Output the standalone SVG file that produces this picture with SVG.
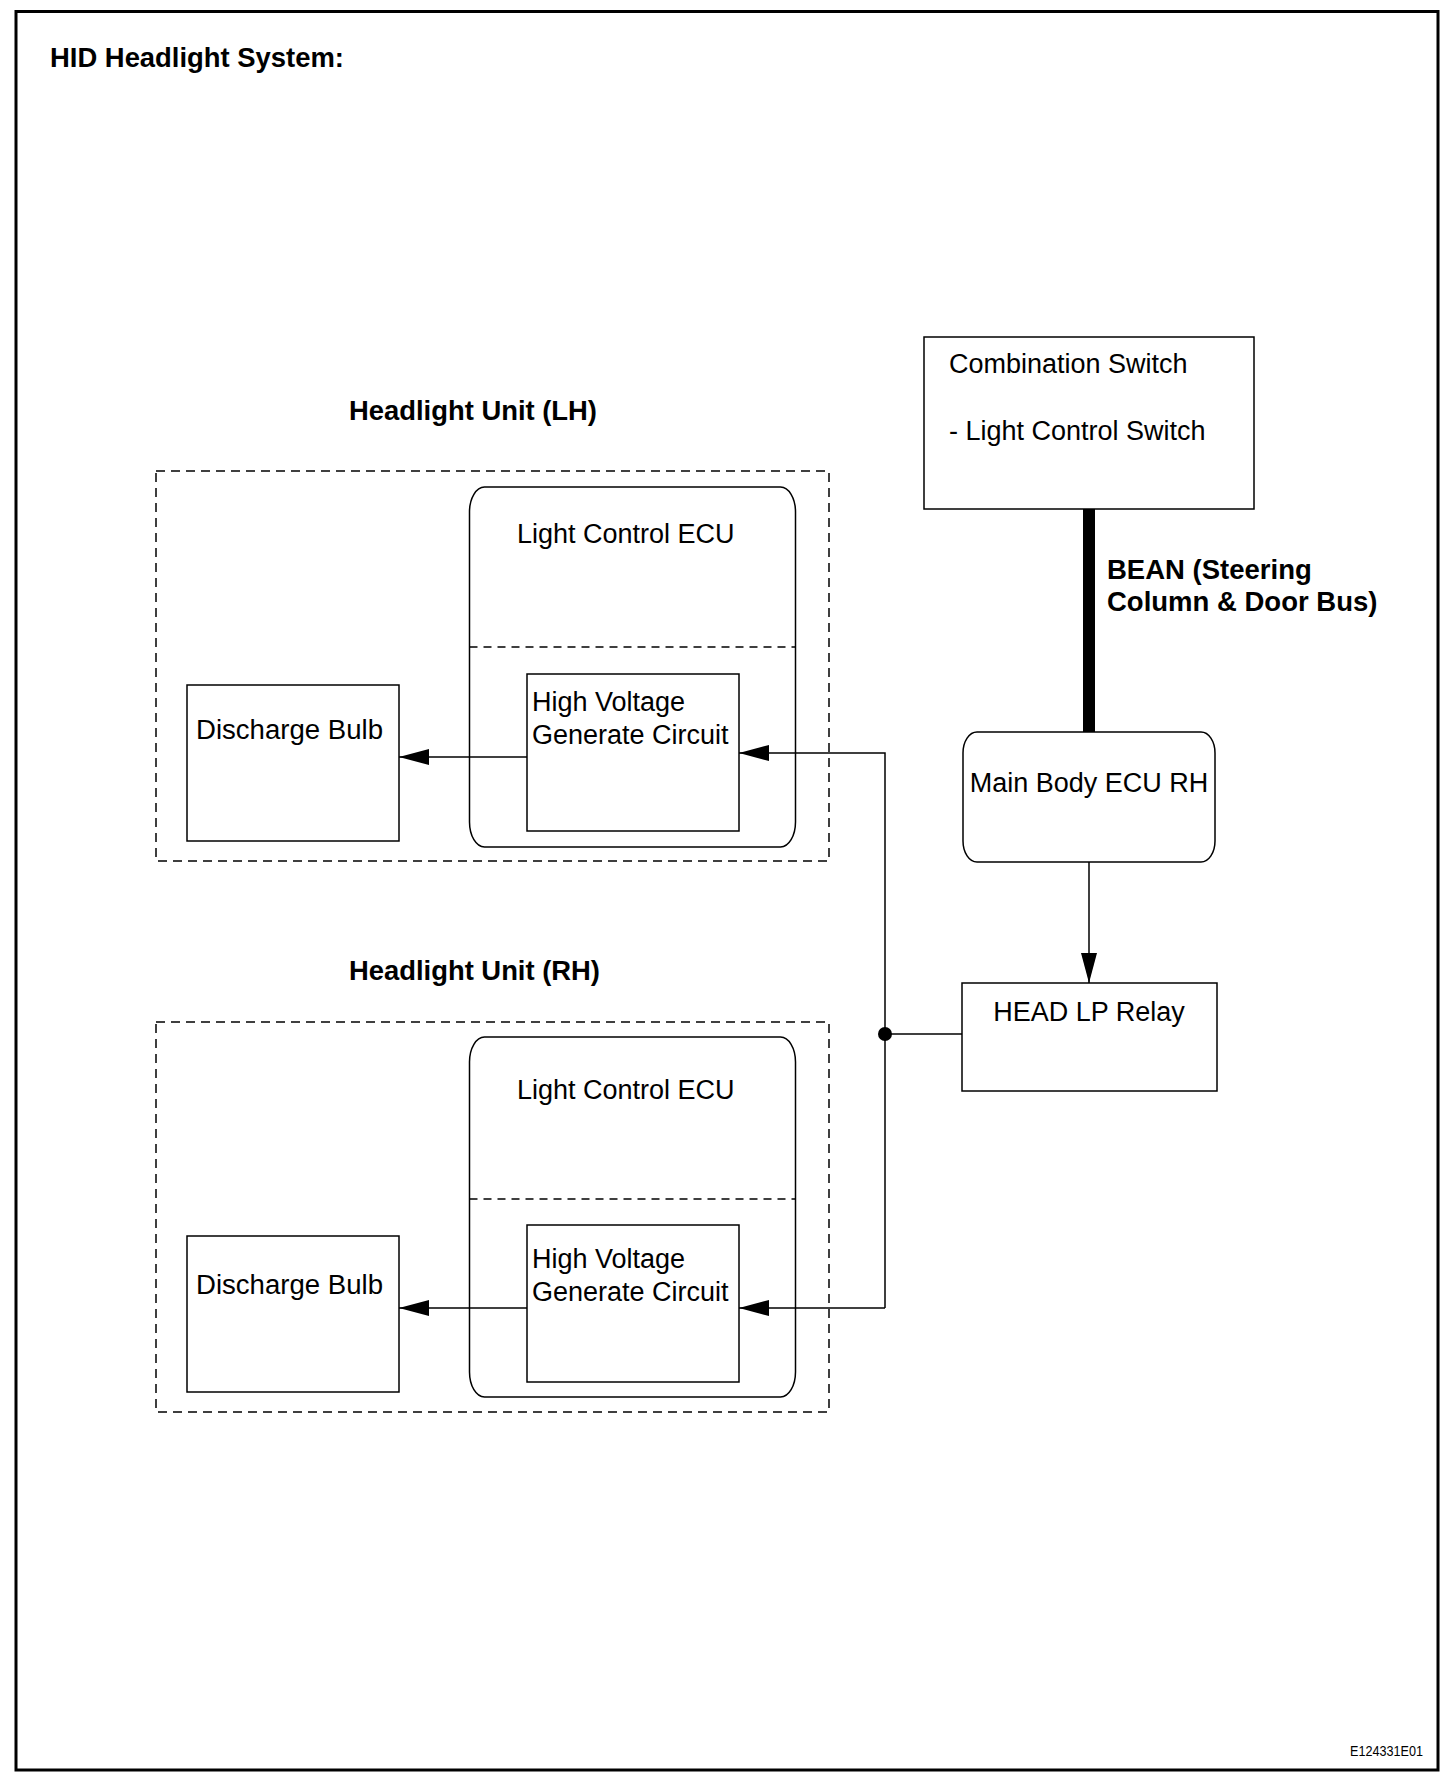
<svg xmlns="http://www.w3.org/2000/svg" width="1456" height="1786" viewBox="0 0 1456 1786">
<style>
.t{font-family:"Liberation Sans",Arial,sans-serif;font-size:27px;fill:#000}
.b{font-family:"Liberation Sans",Arial,sans-serif;font-size:27.5px;font-weight:bold;fill:#000}
.box{fill:#fff;stroke:#000;stroke-width:1.5}
.dash{fill:none;stroke:#000;stroke-width:1.5;stroke-dasharray:9 6}
.ln{fill:none;stroke:#000;stroke-width:1.5}
</style>
<defs>
<marker id="ah" viewBox="0 0 30 16" refX="30" refY="8" markerWidth="30" markerHeight="16" markerUnits="userSpaceOnUse" orient="auto">
<path d="M0,0 L30,8 L0,16 Z" fill="#000"/>
</marker>
</defs>
<rect width="1456" height="1786" fill="#fff"/>
<rect x="16" y="11.5" width="1422" height="1758.5" fill="none" stroke="#000" stroke-width="3"/>
<text class="b" x="50" y="67" textLength="294" lengthAdjust="spacingAndGlyphs">HID Headlight System:</text>

<g id="combination-switch">
<rect class="box" x="924" y="337" width="330" height="172"/>
<text class="t" x="949" y="373">Combination Switch</text>
<text class="t" x="949" y="440">- Light Control Switch</text>
</g>

<g id="main-body-ecu">
<rect class="box" x="963" y="732" width="252" height="130" rx="14" ry="21"/>
<text class="t" x="1089" y="792" text-anchor="middle">Main Body ECU RH</text>
</g>

<g id="head-lp-relay">
<rect class="box" x="962" y="983" width="255" height="108"/>
<text class="t" x="1089" y="1021" text-anchor="middle">HEAD LP Relay</text>
</g>

<g id="headlight-lh">
<text class="b" x="349" y="420" textLength="248" lengthAdjust="spacingAndGlyphs">Headlight Unit (LH)</text>
<rect class="dash" x="156" y="471" width="673" height="390"/>
<g id="lh-ecu">
<rect class="box" x="469.5" y="487" width="326" height="360" rx="15" ry="25"/>
<text class="t" x="517" y="543">Light Control ECU</text>
<line class="dash" x1="469.5" y1="647" x2="795.5" y2="647" style="stroke-dasharray:8 6"/>
</g>
<g id="lh-hv">
<rect class="box" x="527" y="674" width="212" height="157"/>
<text class="t" x="532" y="711">High Voltage</text>
<text class="t" x="532" y="744">Generate Circuit</text>
</g>
<g id="lh-bulb">
<rect class="box" x="187" y="685" width="212" height="156"/>
<text class="t" x="196" y="739" textLength="187" lengthAdjust="spacingAndGlyphs">Discharge Bulb</text>
</g>
</g>

<g id="headlight-rh">
<text class="b" x="349" y="980" textLength="251" lengthAdjust="spacingAndGlyphs">Headlight Unit (RH)</text>
<rect class="dash" x="156" y="1022" width="673" height="390"/>
<g id="rh-ecu">
<rect class="box" x="469.5" y="1037" width="326" height="360" rx="15" ry="25"/>
<text class="t" x="517" y="1099">Light Control ECU</text>
<line class="dash" x1="469.5" y1="1199" x2="795.5" y2="1199" style="stroke-dasharray:8 6"/>
</g>
<g id="rh-hv">
<rect class="box" x="527" y="1225" width="212" height="157"/>
<text class="t" x="532" y="1268">High Voltage</text>
<text class="t" x="532" y="1301">Generate Circuit</text>
</g>
<g id="rh-bulb">
<rect class="box" x="187" y="1236" width="212" height="156"/>
<text class="t" x="196" y="1294" textLength="187" lengthAdjust="spacingAndGlyphs">Discharge Bulb</text>
</g>
</g>

<g id="connectors">
<line x1="1089" y1="509" x2="1089" y2="732" stroke="#000" stroke-width="12"/>
<text class="b" x="1107" y="579">BEAN (Steering</text>
<text class="b" x="1107" y="611">Column &amp; Door Bus)</text>
<line class="ln" x1="1089" y1="862" x2="1089" y2="983" marker-end="url(#ah)"/>
<line class="ln" x1="962" y1="1034" x2="885" y2="1034"/>
<circle cx="885" cy="1034" r="7" fill="#000"/>
<polyline class="ln" points="885,1308 885,753 739,753" marker-end="url(#ah)"/>
<line class="ln" x1="885" y1="1308" x2="739" y2="1308" marker-end="url(#ah)"/>
<line class="ln" x1="527" y1="757" x2="399" y2="757" marker-end="url(#ah)"/>
<line class="ln" x1="527" y1="1308" x2="399" y2="1308" marker-end="url(#ah)"/>
</g>

<text x="1350" y="1756" font-family="Liberation Sans, Arial, sans-serif" font-size="14" textLength="73" lengthAdjust="spacingAndGlyphs">E124331E01</text>
</svg>
